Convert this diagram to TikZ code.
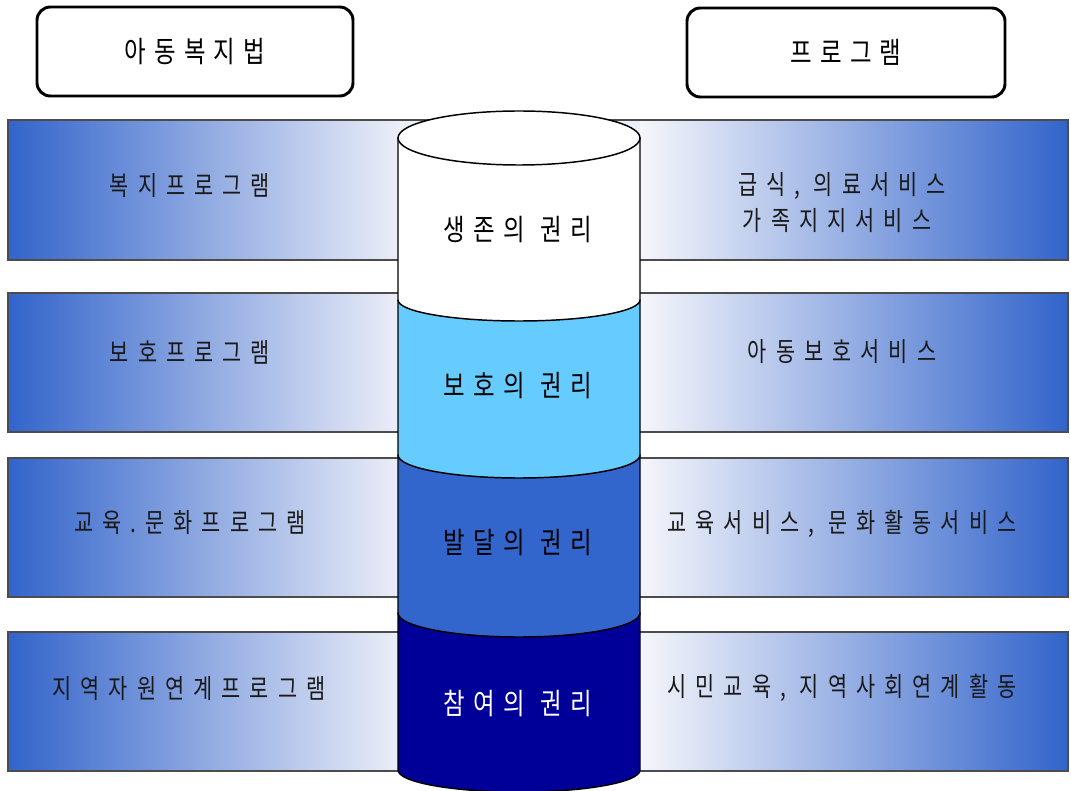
\documentclass[tikz,border=0pt]{standalone}
\usepackage{fontspec}
\newfontfamily\krband[LetterSpace=34,FakeStretch=0.78]{Noto Sans CJK KR}
\newfontfamily\krbig[LetterSpace=28,FakeStretch=0.8]{Noto Sans CJK KR}
\newcommand{\gap}{\kern 12pt\relax}
\definecolor{bandblue}{HTML}{3264CB}
\definecolor{bandlight}{HTML}{ECEEF8}
\definecolor{bandlighter}{HTML}{F5F6FB}
\definecolor{cylsky}{HTML}{66CCFF}
\definecolor{cylmid}{HTML}{3366CC}
\definecolor{cylnavy}{HTML}{000099}
\tikzset{
  bandleft/.style={left color=bandblue, right color=bandlight},
  bandright/.style={left color=bandlighter, right color=bandblue},
  bandline/.style={draw=black!70, line width=1.1pt},
  bandtext/.style={font=\krband\fontsize{20pt}{25pt}\selectfont, text=black!90, inner sep=0pt, align=center},
  cyltext/.style={font=\krbig\fontsize{22pt}{26pt}\selectfont, inner sep=0pt},
  headbox/.style={draw=black, line width=2.2pt, rounded corners=10pt, fill=white, font=\krbig\fontsize{22pt}{26pt}\selectfont},
  cylseg/.style={draw=black, line width=1.1pt}
}
\begin{document}
\begin{tikzpicture}[x=0.75pt,y=-0.75pt]
\useasboundingbox (0,0) rectangle (1071,791);
% bands
\foreach \t/\b in {120/260,293/432,458/597,632/771}{
  \path[bandleft] (8,\t) rectangle (400,\b);
  \path[fill=bandlight] (400,\t) rectangle (640,\b);
  \path[bandright] (640,\t) rectangle (1068,\b);
  \draw[bandline] (8,\t) rectangle (1068,\b);
}
% header boxes
\node[headbox, minimum width=237pt, minimum height=66.75pt] (law) at (195,51.5) {아동복지법};
\node[headbox, minimum width=238.5pt, minimum height=66.75pt] (prog) at (846,52.5) {프로그램};
% cylinder, drawn bottom-up
\filldraw[cylseg, fill=cylnavy] (398,613) -- (398,770) arc[start angle=180, end angle=0, x radius=121, y radius=22] -- (640,613) -- cycle;
\filldraw[cylseg, fill=cylmid] (398,455) -- (398,613) arc[start angle=180, end angle=0, x radius=121, y radius=24] -- (640,455) -- cycle;
\filldraw[cylseg, fill=cylsky] (398,300) -- (398,455) arc[start angle=180, end angle=0, x radius=121, y radius=23] -- (640,300) -- cycle;
\filldraw[cylseg, fill=white] (398,138) -- (398,300) arc[start angle=180, end angle=0, x radius=121, y radius=21] -- (640,138) -- cycle;
\filldraw[cylseg, fill=white] (519,138) ellipse[x radius=121, y radius=27];
% cylinder labels
\node[cyltext] (r1) at (518,230) {생존의\gap 권리};
\node[cyltext] (r2) at (518,386) {보호의\gap 권리};
\node[cyltext] (r3) at (518,543) {발달의\gap 권리};
\node[cyltext, text=white] (r4) at (518,703) {참여의\gap 권리};
% left band labels
\node[bandtext] (l1) at (190,186) {복지프로그램};
\node[bandtext] (l2) at (190,352) {보호프로그램};
\node[bandtext] (l3) at (190,523) {교육.문화프로그램};
\node[bandtext] (l4) at (189,689) {지역자원연계프로그램};
% right band labels
\node[bandtext] (p1a) at (842,186) {급식, 의료서비스};
\node[bandtext] (p1b) at (837,221) {가족지지서비스};
\node[bandtext] (p2) at (842,352) {아동보호서비스};
\node[bandtext] (p3) at (842,524) {교육서비스, 문화활동서비스};
\node[bandtext] (p4) at (842,688) {시민교육, 지역사회연계활동};
\end{tikzpicture}
\end{document}
